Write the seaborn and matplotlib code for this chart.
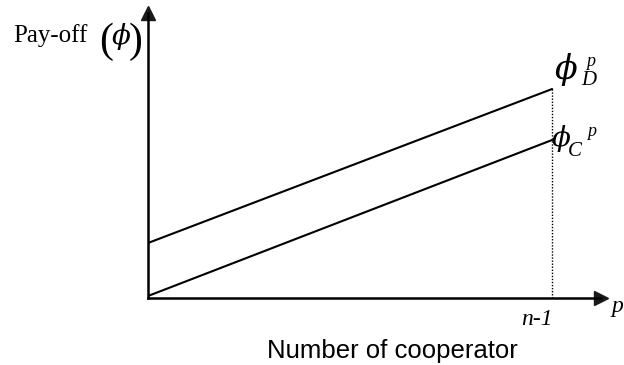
import numpy as np
import pandas as pd
import matplotlib
matplotlib.use("Agg")
import matplotlib.pyplot as plt
import seaborn as sns

# ---- data (schematic pay-off lines) ----
N_COOP = [0, 10]              # 0 ... n-1 cooperators
PAYOFF_D = [5.5, 20.9]        # defector pay-off
PAYOFF_C = [0.2, 15.8]        # cooperator pay-off
SERIES = ["D", "C"]
X_TICK_LABEL = "n-1"
X_LABEL = "Number of cooperator"
Y_LABEL = "Pay-off"

sns.set_theme(style="white")
plt.rcParams["font.family"] = ["Liberation Serif", "DejaVu Serif"]
plt.rcParams["text.color"] = "black"

W, H = 624, 365
fig = plt.figure(figsize=(W / 100, H / 100), dpi=100)

def fx(px):
    return px / W

def fy(py):
    return (H - py) / H

# axes: origin at pixel (148, 298), spine ends at (601, 298) and (148, 13)
ax = fig.add_axes([fx(148), fy(298), (601 - 148) / W, (298 - 13) / H])
ax.set_facecolor("none")

df = pd.DataFrame({
    "n": N_COOP * 2,
    "payoff": PAYOFF_D + PAYOFF_C,
    "who": [SERIES[0]] * len(N_COOP) + [SERIES[1]] * len(N_COOP),
})
sns.lineplot(data=df, x="n", y="payoff", units="who", estimator=None,
             color="black", lw=1.5, ax=ax, legend=False)

# dotted guide at n-1
ax.plot([N_COOP[-1], N_COOP[-1]], [0, PAYOFF_D[-1]], color="black",
        ls=(0, (1, 1.2)), lw=1.0)

ax.set_xlim(0, 11.21)
ax.set_ylim(0, 28.5)
ax.set_xticks([])
ax.set_yticks([])
ax.set_xlabel("")
ax.set_ylabel("")
for s in ["top", "right"]:
    ax.spines[s].set_visible(False)
for s in ["left", "bottom"]:
    ax.spines[s].set_color("black")
    ax.spines[s].set_linewidth(1.8)

# arrow heads
ax.plot(1, 0, ">k", ms=10.5, transform=ax.transAxes, clip_on=False)
ax.plot(0, 1, "^k", ms=10.5, transform=ax.transAxes, clip_on=False)

# texts
fig.text(fx(13), fy(42), Y_LABEL, fontsize=18, va="baseline", ha="left", color="black")
fig.text(fx(99), fy(52), "(", fontsize=30, va="baseline", ha="left", color="black")
fig.text(fx(121), fy(44), "\u03d5", fontsize=20, style="italic", va="baseline", ha="center",
         family=["DejaVu Serif"], color="black")
fig.text(fx(143), fy(52), ")", fontsize=30, va="baseline", ha="right", color="black")

# phi_D^p
fig.text(fx(566), fy(79), "\u03d5", fontsize=24, style="italic", va="baseline", ha="center",
         family=["DejaVu Serif"], color="black")
fig.text(fx(581), fy(85), "D", fontsize=15, style="italic", va="baseline", ha="left", color="black")
fig.text(fx(586), fy(66), "p", fontsize=13, style="italic", va="baseline", ha="left", color="black")

# phi_C^p
fig.text(fx(561), fy(146), "\u03d5", fontsize=20, style="italic", va="baseline", ha="center",
         family=["DejaVu Serif"], color="black")
fig.text(fx(568), fy(156), "C", fontsize=15, style="italic", va="baseline", ha="left", color="black")
fig.text(fx(587), fy(136), "p", fontsize=13, style="italic", va="baseline", ha="left", color="black")

# axis labels
fig.text(fx(553), fy(325), X_TICK_LABEL, fontsize=17, style="italic", va="baseline", ha="right",
         color="black")
fig.text(fx(611), fy(312), "p", fontsize=17, style="italic", va="baseline", ha="left", color="black")
fig.text(fx(267), fy(358), X_LABEL, fontsize=18.5, va="baseline", ha="left",
         family=["Liberation Sans", "DejaVu Sans"], color="black")

fig.savefig("out.png", dpi=100)
